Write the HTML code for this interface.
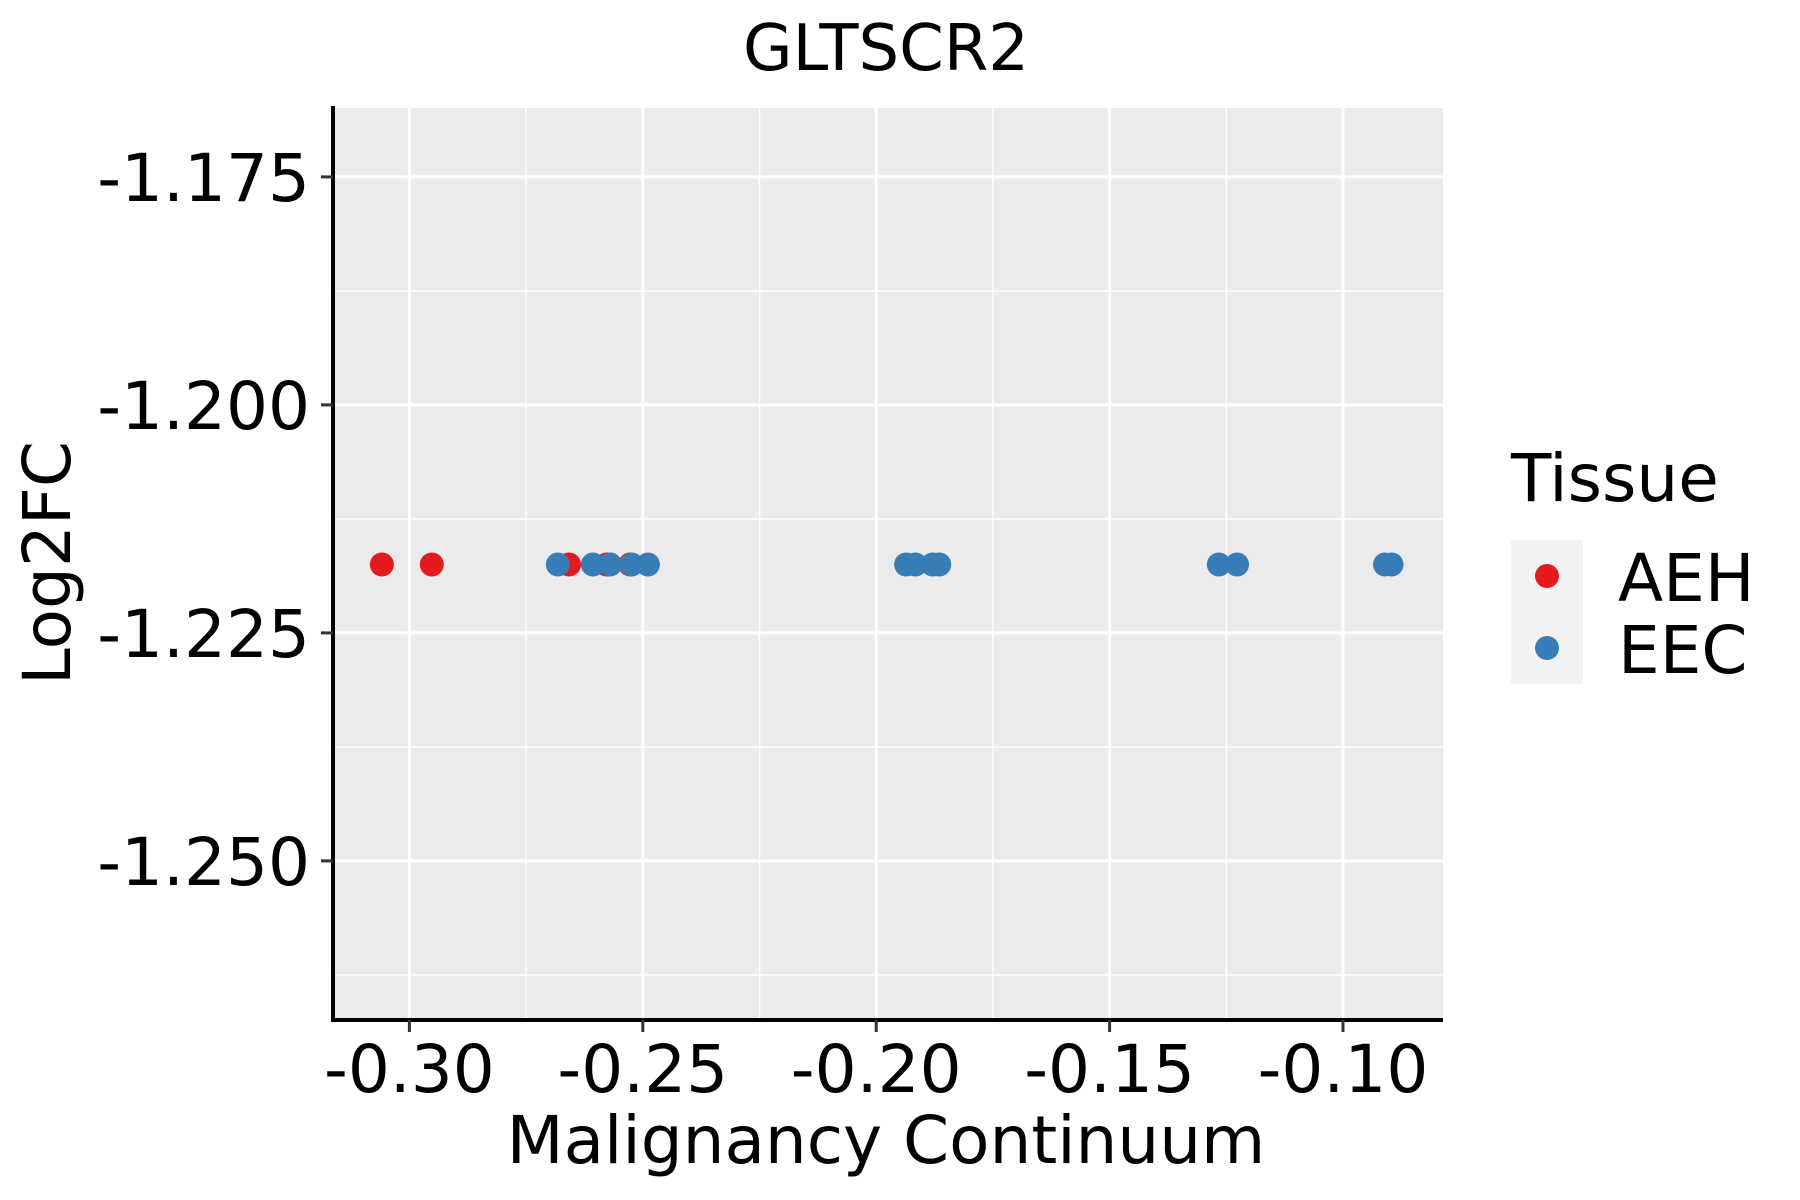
<!DOCTYPE html>
<html><head><meta charset="utf-8"><style>body{margin:0;background:#fff}svg{display:block}text{font-family:"DejaVu Sans","Liberation Sans",sans-serif;fill:#000}</style></head>
<body>
<svg id="chart" width="1800" height="1200" xmlns="http://www.w3.org/2000/svg">
<text x="886" y="70" font-size="64" text-anchor="middle">GLTSCR2</text>
<rect x="333" y="108" width="1110" height="912" fill="#ebebeb"/>
<g id="grid"></g>
<g id="points"></g>
<line x1="333" y1="106" x2="333" y2="1022" stroke="#000" stroke-width="4"/>
<line x1="331" y1="1020" x2="1443" y2="1020" stroke="#000" stroke-width="4"/>
<g id="axes"></g>
<text x="886" y="1163" font-size="66" text-anchor="middle">Malignancy Continuum</text>
<text transform="translate(70,563) rotate(-90)" font-size="66" text-anchor="middle">Log2FC</text>
<g>
<text x="1511" y="501" font-size="66">Tissue</text>
<rect x="1511" y="540" width="72" height="144" fill="#f2f2f2"/>
<circle cx="1547" cy="576" r="12" fill="#e41a1c"/>
<circle cx="1547" cy="648" r="12" fill="#377eb8"/>
<text x="1618" y="601" font-size="66">AEH</text>
<text x="1618" y="673" font-size="66">EEC</text>
</g>
</svg>
<script>
const xTicks=[-0.30,-0.25,-0.20,-0.15,-0.10];
const xTickLabels=["-0.30","-0.25","-0.20","-0.15","-0.10"];
const yTicks=[-1.175,-1.200,-1.225,-1.250];
const yTickLabels=["-1.175","-1.200","-1.225","-1.250"];
const aehX=[-0.3059,-0.2952,-0.2658,-0.2577,-0.2527];
const aehY=[-1.2175,-1.2175,-1.2175,-1.2175,-1.2175];
const eecX=[-0.2682,-0.2607,-0.2570,-0.2524,-0.2489,-0.1936,-0.1916,-0.1879,-0.1865,-0.1266,-0.1227,-0.0910,-0.0896];
const eecY=[-1.2175,-1.2175,-1.2175,-1.2175,-1.2175,-1.2175,-1.2175,-1.2175,-1.2175,-1.2175,-1.2175,-1.2175,-1.2175];
const NS="http://www.w3.org/2000/svg";
function sx(v){return 409.4+(v+0.30)/0.05*233.4;}
function sy(v){return 176.9+(-1.175-v)/0.025*228;}
function mk(tag,attrs,parent){const e=document.createElementNS(NS,tag);for(const k in attrs)e.setAttribute(k,attrs[k]);parent.appendChild(e);return e;}
const grid=document.getElementById('grid'),axes=document.getElementById('axes'),pts=document.getElementById('points');
const minorX=[-0.325,-0.275,-0.225,-0.175,-0.125,-0.075];
const minorY=[-1.1625,-1.1875,-1.2125,-1.2375,-1.2625];
minorX.forEach(v=>{const x=sx(v);if(x>333&&x<1443){const l=mk('line',{x1:x,y1:108,x2:x,y2:1020,stroke:'#fff','stroke-width':1.5},grid);

}});
minorY.forEach(v=>{const y=sy(v);if(y>108&&y<1020){const l=mk('line',{x1:333,y1:y,x2:1443,y2:y,stroke:'#fff','stroke-width':1.5},grid);

}});
xTicks.forEach((v,i)=>{const x=sx(v);
const g=mk('line',{x1:x,y1:108,x2:x,y2:1020,stroke:'#fff','stroke-width':3},grid);


const t=mk('line',{x1:x,y1:1020,x2:x,y2:1032,stroke:'#333','stroke-width':3},axes);


const tx=mk('text',{x:x,y:1092,'font-size':66,'text-anchor':'middle'},axes);tx.textContent=xTickLabels[i];

});
yTicks.forEach((v,i)=>{const y=sy(v);
const g=mk('line',{x1:333,y1:y,x2:1443,y2:y,stroke:'#fff','stroke-width':3},grid);


const t=mk('line',{x1:321,y1:y,x2:333,y2:y,stroke:'#333','stroke-width':3},axes);


const tx=mk('text',{x:310,y:y+24,'font-size':66,'text-anchor':'end'},axes);tx.textContent=yTickLabels[i];

});
aehX.forEach((v,i)=>{const c=mk('circle',{cx:sx(v),cy:sy(aehY[i]),r:12,fill:'#e41a1c'},pts);

});
eecX.forEach((v,i)=>{const c=mk('circle',{cx:sx(v),cy:sy(eecY[i]),r:12,fill:'#377eb8'},pts);

});
</script>
</body></html>
